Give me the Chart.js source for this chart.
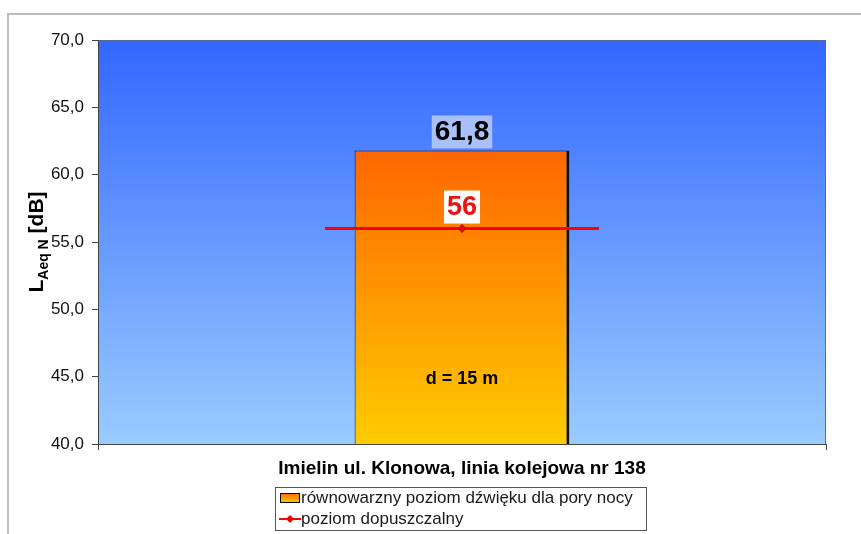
<!DOCTYPE html>
<html>
<head>
<meta charset="utf-8">
<script src="https://cdn.jsdelivr.net/npm/chart.js@4"></script>
<style>
  html, body { margin: 0; padding: 0; background: #fff; }
  #wrap { width: 861px; height: 534px; }
</style>
</head>
<body>
<div id="wrap"><canvas id="noiseChart"></canvas></div>
<script>
const categories = ["Imielin ul. Klonowa, linia kolejowa nr 138"];
const levelValues = [61.8];
const limitValues = [56];
const seriesNames = ["równowarzny poziom dźwięku dla pory nocy", "poziom dopuszczalny"];
const yTicks = [40, 45, 50, 55, 60, 65, 70];
const distanceNote = "d = 15 m";
const distanceNoteAt = 44.8;

const FONT = "'Liberation Sans', Arial, sans-serif";
const fmt = v => (Number.isInteger(v) && v === limitValues[0]) ? String(v) : v.toFixed(1).replace(".", ",");

const decorPlugin = {
    id: "decor",
    beforeDraw(chart) {
        const { ctx, chartArea: a } = chart;
        ctx.save();
        // outer frame
        ctx.strokeStyle = "#bdbdbd";
        ctx.lineWidth = 2;
        ctx.beginPath();
        ctx.moveTo(8, 534);
        ctx.lineTo(8, 14);
        ctx.lineTo(861, 14);
        ctx.stroke();
        // plot background gradient
        const g = ctx.createLinearGradient(0, a.top, 0, a.bottom);
        g.addColorStop(0, "#3366ff");
        g.addColorStop(1, "#9accff");
        ctx.fillStyle = g;
        ctx.fillRect(a.left, a.top, a.right - a.left, a.bottom - a.top);
        ctx.strokeStyle = "#5a6a90";
        ctx.lineWidth = 1;
        ctx.strokeRect(a.left + 0.5, a.top + 0.5, a.right - a.left - 1, a.bottom - a.top);
        ctx.restore();
    },
    afterDatasetsDraw(chart) {
        const { ctx, scales } = chart;
        ctx.save();
        ctx.textAlign = "center";
        ctx.textBaseline = "middle";

        // bar value label
        const bar = chart.getDatasetMeta(0).data[0];
        ctx.font = "bold 28px " + FONT;
        let t = fmt(levelValues[0]);
        let w = ctx.measureText(t).width + 6;
        ctx.fillStyle = "rgba(200,215,250,0.75)";
        ctx.fillRect(bar.x - w / 2, bar.y - 35, w, 33);
        ctx.fillStyle = "#000";
        ctx.fillText(t, bar.x, bar.y - 18);

        // limit value label
        const pt = chart.getDatasetMeta(1).data[0];
        ctx.font = "bold 27px " + FONT;
        t = fmt(limitValues[0]);
        w = ctx.measureText(t).width + 6;
        ctx.fillStyle = "#fff";
        ctx.fillRect(pt.x - w / 2, pt.y - 38, w, 33);
        ctx.fillStyle = "#ee1111";
        ctx.fillText(t, pt.x, pt.y - 21);

        // distance note
        ctx.font = "bold 18px " + FONT;
        ctx.fillStyle = "#000";
        ctx.fillText(distanceNote, bar.x, scales.y.getPixelForValue(distanceNoteAt));

        // y axis title with subscript
        ctx.translate(37, (chart.chartArea.top + chart.chartArea.bottom) / 2);
        ctx.rotate(-Math.PI / 2);
        ctx.textAlign = "left";
        ctx.textBaseline = "alphabetic";
        const p1 = "L", p2 = "Aeq N", p3 = " [dB]";
        ctx.font = "bold 21px " + FONT;
        const w1 = ctx.measureText(p1).width, w3 = ctx.measureText(p3).width;
        ctx.font = "bold 14px " + FONT;
        const w2 = ctx.measureText(p2).width;
        let x = -(w1 + w2 + w3) / 2;
        ctx.font = "bold 21px " + FONT;
        ctx.fillText(p1, x, 6); x += w1;
        ctx.font = "bold 14px " + FONT;
        ctx.fillText(p2, x, 11); x += w2;
        ctx.font = "bold 21px " + FONT;
        ctx.fillText(p3, x, 6);
        ctx.restore();

        // legend
        ctx.save();
        ctx.strokeStyle = "#555";
        ctx.lineWidth = 1;
        ctx.strokeRect(275.5, 487.5, 371, 43);
        const lg = ctx.createLinearGradient(0, 493, 0, 503);
        lg.addColorStop(0, "#ff6600");
        lg.addColorStop(1, "#ffcc00");
        ctx.fillStyle = lg;
        ctx.fillRect(280, 493, 20, 10);
        ctx.strokeStyle = "#000";
        ctx.strokeRect(280.5, 493.5, 19, 9);
        ctx.strokeStyle = "#ff0000";
        ctx.lineWidth = 2;
        ctx.beginPath();
        ctx.moveTo(279, 519);
        ctx.lineTo(301, 519);
        ctx.stroke();
        ctx.fillStyle = "#ee0000";
        ctx.beginPath();
        ctx.moveTo(290, 515); ctx.lineTo(294, 519); ctx.lineTo(290, 523); ctx.lineTo(286, 519);
        ctx.closePath();
        ctx.fill();
        ctx.font = "17px " + FONT;
        ctx.fillStyle = "#1a1a1a";
        ctx.textBaseline = "middle";
        ctx.textAlign = "left";
        ctx.fillText(seriesNames[0], 301, 498);
        ctx.fillText(seriesNames[1], 301, 519);
        ctx.restore();
    }
};

const canvas = document.getElementById("noiseChart");

new Chart(canvas, {
    data: {
        labels: categories,
        datasets: [
            {
                type: "bar",
                label: seriesNames[0],
                data: levelValues,
                backgroundColor: (c) => {
                    const { chart } = c;
                    if (!chart.chartArea) return "#ff9900";
                    const top = chart.scales.y.getPixelForValue(levelValues[0]);
                    const g = chart.ctx.createLinearGradient(0, top, 0, chart.chartArea.bottom);
                    g.addColorStop(0, "#ff6600");
                    g.addColorStop(1, "#ffcc00");
                    return g;
                },
                borderColor: "#111",
                borderWidth: { top: 1, left: 1, right: 3, bottom: 0 },
                borderSkipped: false,
                barPercentage: 0.295,
                categoryPercentage: 1,
                order: 2,
            },
            {
                type: "line",
                label: seriesNames[1],
                data: limitValues,
                showLine: false,
                pointStyle: "line",
                pointRadius: 137,
                pointHoverRadius: 137,
                pointBorderWidth: 3,
                pointBorderColor: "#ff0000",
                borderColor: "#ff0000",
                order: 1,
            },
            {
                type: "line",
                label: seriesNames[1],
                data: limitValues,
                showLine: false,
                pointStyle: "rectRot",
                pointRadius: 4,
                pointBackgroundColor: "#e80000",
                pointBorderColor: "#c00000",
                pointBorderWidth: 1,
                order: 0,
            }
        ]
    },
    options: {
        responsive: true,
        maintainAspectRatio: false,
        animation: false,
        events: [],
        layout: { autoPadding: false, padding: { top: 40, right: 35, left: 0, bottom: 0 } },
        plugins: {
            legend: { display: false },
            tooltip: { enabled: false }
        },
        scales: {
            x: {
                afterFit: (s) => { s.height = 90; },
                grid: { display: true, drawOnChartArea: false, offset: true, tickLength: 6, color: "#444", lineWidth: 1 },
                border: { color: "#444", width: 1 },
                ticks: { color: "#000", padding: 7, font: { family: FONT, size: 19, weight: "bold" } }
            },
            y: {
                min: yTicks[0],
                max: yTicks[yTicks.length - 1],
                afterFit: (s) => { s.width = 98; },
                afterBuildTicks: (s) => { s.ticks = yTicks.map(v => ({ value: v })); },
                grid: { drawOnChartArea: false, tickLength: 6, color: "#444" },
                border: { color: "#444", width: 1 },
                ticks: {
                    color: "#111",
                    padding: 8,
                    font: { family: FONT, size: 17 },
                    callback: (v) => v.toFixed(1).replace(".", ",")
                }
            }
        }
    },
    plugins: [decorPlugin]
});
</script>
</body>
</html>
